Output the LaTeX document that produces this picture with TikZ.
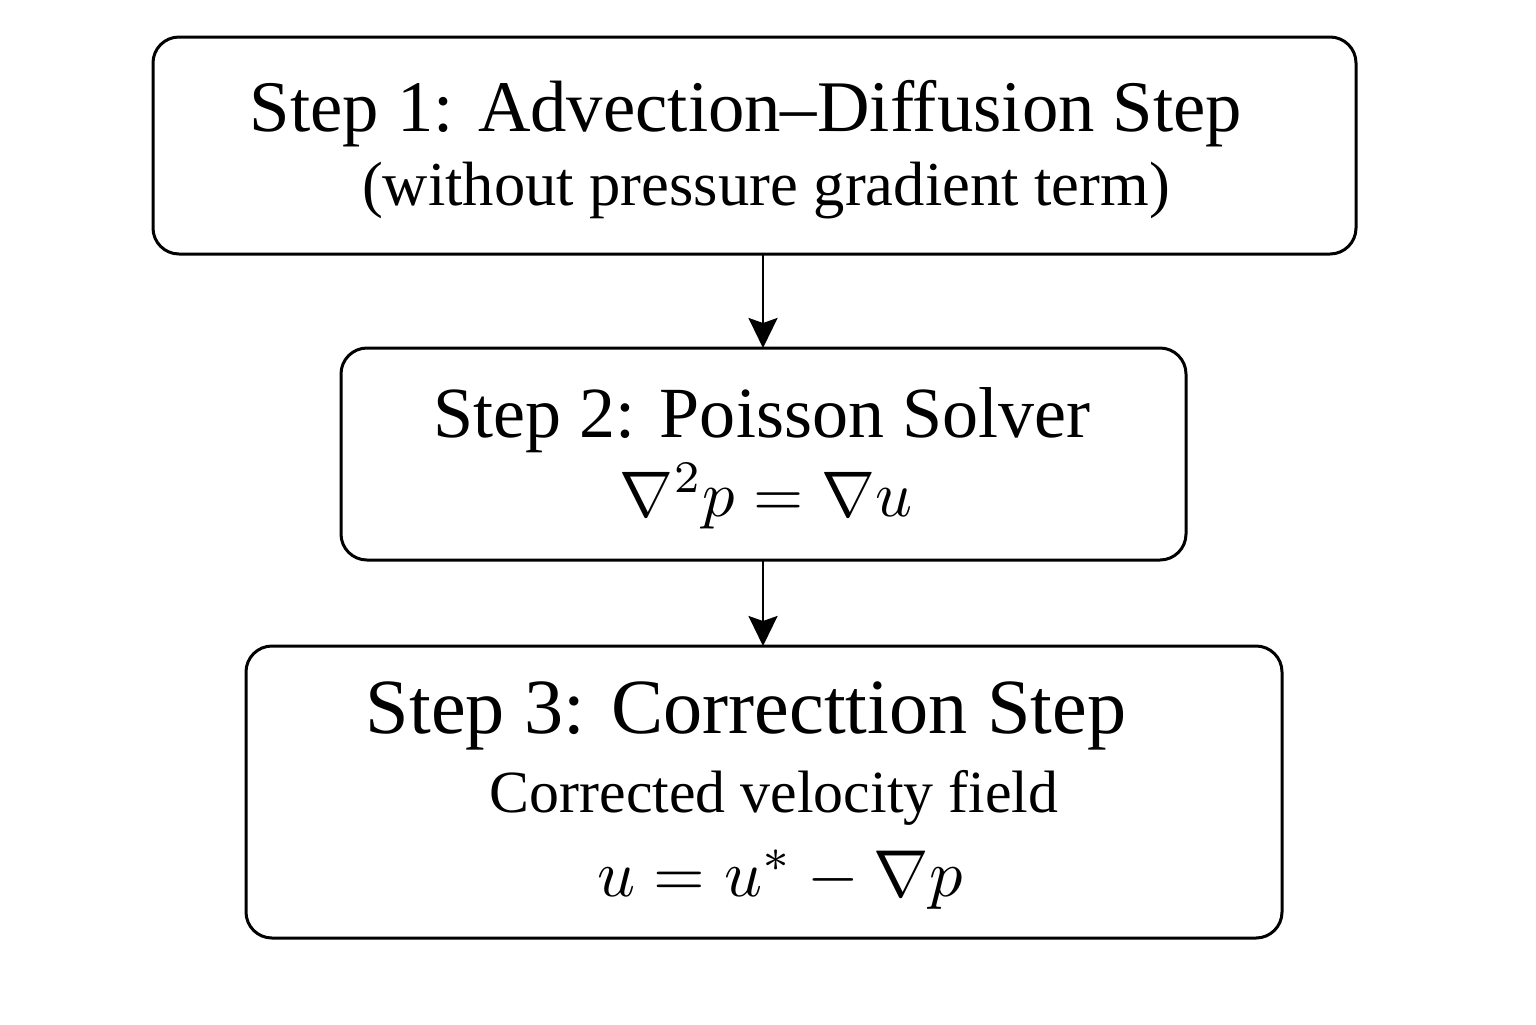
\documentclass[tikz,border=0pt]{standalone}
\usepackage{fontspec}
\usepackage{graphicx}
\newfontfamily\serifalt{Liberation Serif}
\usetikzlibrary{arrows.meta}
\tikzset{
  stepbox/.style={draw=black, line width=1.5pt, rounded corners=13pt},
  flow/.style={draw=black, line width=1.3pt, -{Stealth[length=15pt,width=14.5pt,inset=2.5pt]}},
  lbl/.style={anchor=base, inner sep=0pt, text=black, font=\serifalt},
}
\begin{document}
\begin{tikzpicture}[x=0.5pt,y=-0.5pt]
\useasboundingbox[fill=white] (0,0) rectangle (1536,1024);
\draw[stepbox] (153,37) rectangle (1356,254);
\draw[stepbox] (341,348) rectangle (1186,560);
\draw[stepbox] (246,646) rectangle (1282,938);
\node[lbl] (t1) at (746,131) {\resizebox{496pt}{!}{Step 1: Advection–Diffusion Step}};
\node[lbl] (s1) at (766,205) {\resizebox{404pt}{!}{(without pressure gradient term)}};
\node[lbl] (t2) at (762,437) {\resizebox{328pt}{!}{Step 2: Poisson Solver}};
\node[lbl] (s2) at (766,516) {\resizebox{146pt}{!}{$\nabla^2 p = \nabla u$}};
\node[lbl] (t3) at (746,733) {\resizebox{380pt}{!}{Step 3: Correcttion Step}};
\node[lbl] (s3) at (774,812) {\resizebox{284pt}{!}{Corrected velocity field}};
\node[lbl] (m3) at (780,896) {\resizebox{182.5pt}{!}{$u = u^{*} - \nabla p$}};
\coordinate (a1s) at (763,254);
\coordinate (a1e) at (763,348);
\coordinate (a2s) at (763,560);
\coordinate (a2e) at (763,646);
\draw[flow] (a1s) -- (a1e);
\draw[flow] (a2s) -- (a2e);
\end{tikzpicture}
\end{document}
